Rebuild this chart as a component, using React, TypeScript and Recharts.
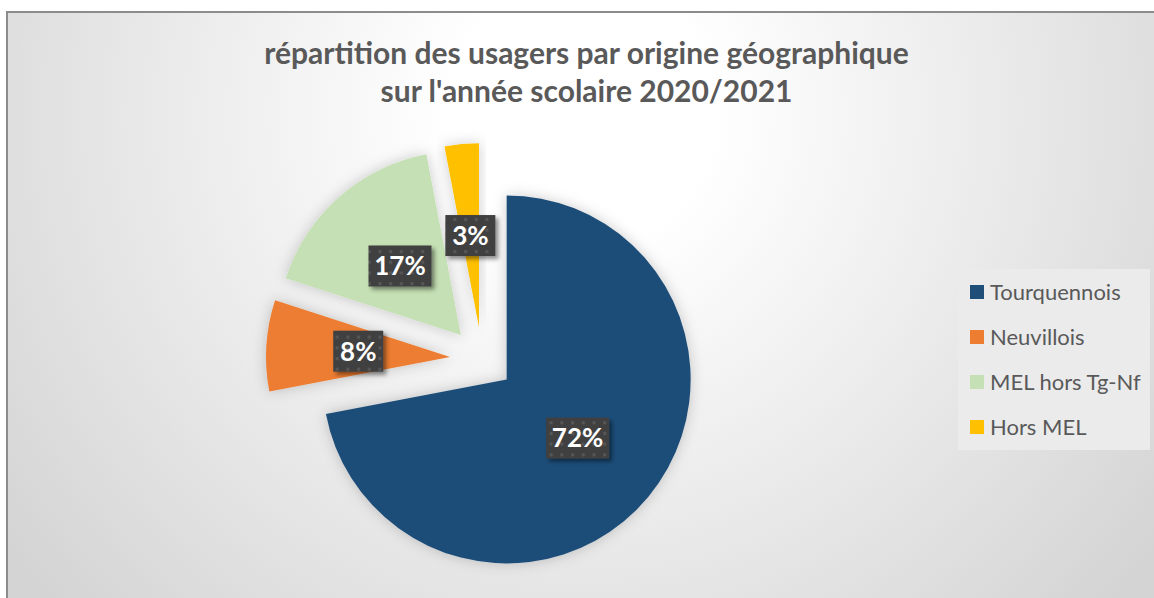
import React from "react";
import { PieChart, Pie, Cell, Sector, Legend } from "recharts";

const categories = ["Tourquennois", "Neuvillois", "MEL hors Tg-Nf", "Hors MEL"];
const shares = [72, 8, 17, 3];
const colors = ["#1F4E79", "#ED7D31", "#C5E0B4", "#FFC000"];

const data = categories.map((name, i) => ({ name, value: shares[i] }));

const RAD = Math.PI / 180;
const EXPLODE = 32;
const FONT = "Lato, 'Open Sans', sans-serif";

function ExplodedSector(props: any) {
  const { cx, cy, midAngle } = props;
  const dx = EXPLODE * Math.cos(-midAngle * RAD);
  const dy = EXPLODE * Math.sin(-midAngle * RAD);
  return (
    <g filter="url(#sliceShadow)">
      <Sector {...props} cx={cx + dx} cy={cy + dy} stroke="none" />
    </g>
  );
}

function PctLabel(props: any) {
  const { cx, cy, midAngle, outerRadius, value } = props;
  const r = EXPLODE + outerRadius * 0.5;
  const x = cx + r * Math.cos(-midAngle * RAD);
  const y = cy + r * Math.sin(-midAngle * RAD);
  const w = String(value).length > 1 ? 63 : 50;
  const h = 41;
  return (
    <g>
      <rect x={x - w / 2} y={y - h / 2} width={w} height={h} fill="url(#dots)" filter="url(#labelShadow)" />
      <text x={x} y={y} dy="0.36em" textAnchor="middle" fill="#ffffff" fontFamily={FONT} fontWeight={700} fontSize={26}>
        {`${value}%`}
      </text>
    </g>
  );
}

function LegendBox(props: any) {
  const items = [...(props.payload || [])].sort(
    (a: any, b: any) => categories.indexOf(a.value) - categories.indexOf(b.value)
  );
  return (
    <div style={{ width: 192, height: 181, background: "#ebebeb", fontFamily: FONT }}>
      {items.map((p: any) => (
        <div key={p.value} style={{ height: 45, display: "flex", alignItems: "center", paddingLeft: 12 }}>
          <span style={{ width: 14, height: 14, background: p.color, marginRight: 6, display: "inline-block" }} />
          <span style={{ fontSize: 22, color: "#595959" }}>{p.value}</span>
        </div>
      ))}
    </div>
  );
}

export default function App() {
  return (
    <div style={{ position: "relative", width: 1154, height: 598, overflow: "hidden" }}>
      <style>{"body{margin:0}"}</style>
      <svg width={0} height={0} style={{ position: "absolute" }}>
        <defs>
          <pattern id="dots" width="10.7" height="10.7" patternUnits="userSpaceOnUse">
            <rect width="10.7" height="10.7" fill="#404040" />
            <rect x="4" y="4" width="3" height="3" fill="#575757" />
          </pattern>
          <filter id="sliceShadow" x="-20%" y="-20%" width="140%" height="140%">
            <feDropShadow dx="0" dy="0" stdDeviation="7" floodColor="#000" floodOpacity="0.2" />
          </filter>
          <filter id="labelShadow" x="-20%" y="-20%" width="150%" height="150%">
            <feDropShadow dx="3" dy="3" stdDeviation="2" floodColor="#000" floodOpacity="0.45" />
          </filter>
        </defs>
      </svg>
      <div
        style={{
          position: "absolute",
          left: 6,
          top: 11,
          width: 1170,
          height: 600,
          borderLeft: "2px solid #8c8c8c",
          borderTop: "2px solid #8c8c8c",
          background: "radial-gradient(circle at 574px 100px, #ffffff 0px, #ffffff 130px, #d4d4d4 720px)",
        }}
      />
      <div
        style={{
          position: "absolute",
          left: 0,
          top: 33,
          width: 1173,
          textAlign: "center",
          fontFamily: FONT,
          fontWeight: 700,
          fontSize: 30,
          lineHeight: "38px",
          color: "#595959",
        }}
      >
        répartition des usagers par origine géographique
        <br />
        sur l'année scolaire 2020/2021
      </div>
      <div style={{ position: "absolute", left: 0, top: 0 }}>
        <PieChart width={1154} height={598} margin={{ top: 0, right: 0, bottom: 0, left: 0 }}>
          <Pie
            data={data}
            dataKey="value"
            nameKey="name"
            cx={482}
            cy={359}
            outerRadius={184}
            startAngle={90}
            endAngle={-270}
            stroke="none"
            isAnimationActive={false}
            label={PctLabel}
            labelLine={false}
            shape={ExplodedSector}
          >
            {data.map((d, i) => (
              <Cell key={d.name} fill={colors[i]} />
            ))}
          </Pie>
          <Legend
            layout="vertical"
            align="right"
            verticalAlign="middle"
            content={LegendBox}
            wrapperStyle={{ left: 958, top: 269, width: 192, height: 181 }}
          />
        </PieChart>
      </div>
    </div>
  );
}
